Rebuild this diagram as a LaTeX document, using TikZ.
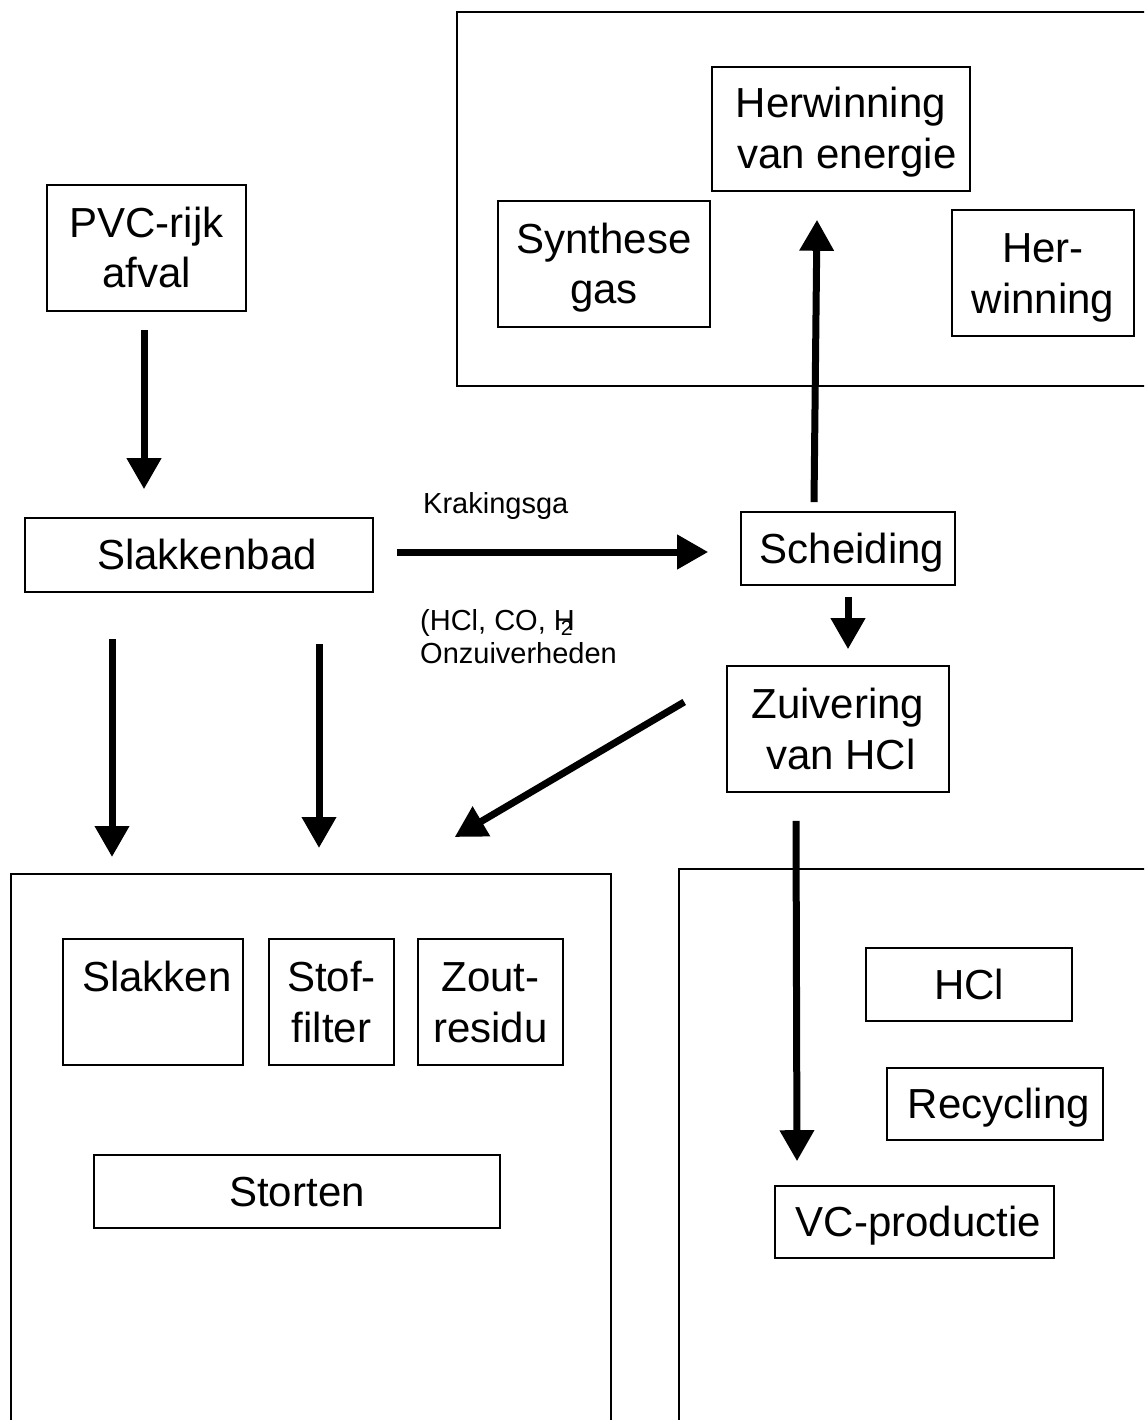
\documentclass[tikz,border=0pt]{standalone}
\usepackage{fontspec}
\setmainfont{Liberation Sans}
\usetikzlibrary{arrows.meta}
\newcommand\bigtxt{\fontsize{42}{51}\selectfont}
\newcommand\smalltxt{\fontsize{29}{33}\selectfont}
\newcommand\ls{\rule[-9pt]{0pt}{47pt}}
\begin{document}
\begin{tikzpicture}[x=1pt,y=-1pt,
  box/.style={draw, line width=1.6pt, inner sep=0pt, align=center, font=\bigtxt},
  group/.style={draw, line width=2pt, inner sep=0pt},
  lbl/.style={inner sep=0pt, anchor=base west, font=\smalltxt},
  arr/.style={line width=7pt, -{Triangle[width=33pt,length=31pt]}}]
\useasboundingbox (0,0) rectangle (1144,1420);
\fill[white] (0,0) rectangle (1144,1420);
\clip (0,0) rectangle (1144,1420);

% group containers
\node[group, minimum width=723pt, minimum height=374pt] (topc) at (818.5,199) {};
\node[group, minimum width=600.5pt, minimum height=586pt] (leftc) at (310.75,1167) {};
\node[group, minimum width=501pt, minimum height=591pt] (rightc) at (929.5,1164.5) {};

% boxes
\node[box, minimum width=258pt, minimum height=124pt] (herw) at (841,129) {\ls Herwinning\\\ls\hspace*{12pt}van energie};
\node[box, minimum width=212pt, minimum height=126pt] (synth) at (604,264) {\ls Synthese\\\ls gas};
\node[box, minimum width=182pt, minimum height=126pt] (herw2) at (1043,273) {\ls Her-\\\ls winning};
\node[box, minimum width=199pt, minimum height=126pt] (pvc) at (146.5,248) {\ls PVC-rijk\\\ls afval};
\node[box, minimum width=348pt, minimum height=74pt] (bad) at (199,555) {\ls\hspace*{16pt}Slakkenbad};
\node[box, minimum width=214pt, minimum height=73pt] (sch) at (848,548.5) {\ls\hspace*{8pt}Scheiding};
\node[box, minimum width=222pt, minimum height=126pt] (zuiv) at (838,729) {\ls Zuivering\\\ls\hspace*{6pt}van HCl};
\node[box, minimum width=180pt, minimum height=126pt] (slak) at (153,1002) {\ls\hspace*{8pt}Slakken\\\ls};
\node[box, minimum width=125pt, minimum height=126pt] (stof) at (331.5,1002) {\ls Stof-\\\ls filter};
\node[box, minimum width=145pt, minimum height=126pt] (zout) at (490.5,1002) {\ls Zout-\\\ls residu};
\node[box, minimum width=406pt, minimum height=73pt] (stort) at (297,1191.5) {\ls Storten};
\node[box, minimum width=206pt, minimum height=73pt] (hcl) at (969,984.5) {\ls HCl};
\node[box, minimum width=216pt, minimum height=72pt] (recyc) at (995,1104) {\ls\hspace*{8pt}Recycling};
\node[box, minimum width=279pt, minimum height=72pt] (vc) at (914.5,1222) {\ls\hspace*{8pt}VC-productie};

% labels
\node[lbl] (krak) at (423,513) {Krakingsga};
\node[lbl] (comp1) at (420,630) {(HCl, CO, H\kern-14pt\raisebox{-5pt}{\fontsize{21}{21}\selectfont 2}};
\node[lbl] (comp2) at (420,663) {Onzuiverheden};

% connectors
\draw[arr] ([xshift=-2.5pt,yshift=-18pt]pvc.south) -- ([xshift=-55pt,yshift=28pt]bad.north);
\draw[arr] ([xshift=23pt,yshift=3pt]bad.east) -- ([xshift=-32pt,yshift=-3.5pt]sch.west);
\draw[arr] ([xshift=-34pt,yshift=9pt]sch.north) -- ([xshift=-24pt,yshift=-28pt]herw.south);
\draw[arr] ([yshift=-11pt]sch.south) -- ([xshift=10pt,yshift=16pt]zuiv.north);
\draw[arr] ([xshift=-42pt,yshift=27pt]zuiv.west) -- ([xshift=144pt,yshift=36pt]leftc.north);
\draw[arr] ([xshift=-87pt,yshift=-46pt]bad.south) -- ([xshift=-198.75pt,yshift=16pt]leftc.north);
\draw[arr] ([xshift=120pt,yshift=-51pt]bad.south) -- ([xshift=8.25pt,yshift=25pt]leftc.north);
\draw[arr] ([xshift=-42pt,yshift=-28pt]zuiv.south) -- ([xshift=-117.5pt,yshift=24pt]vc.north);
\end{tikzpicture}
\end{document}
